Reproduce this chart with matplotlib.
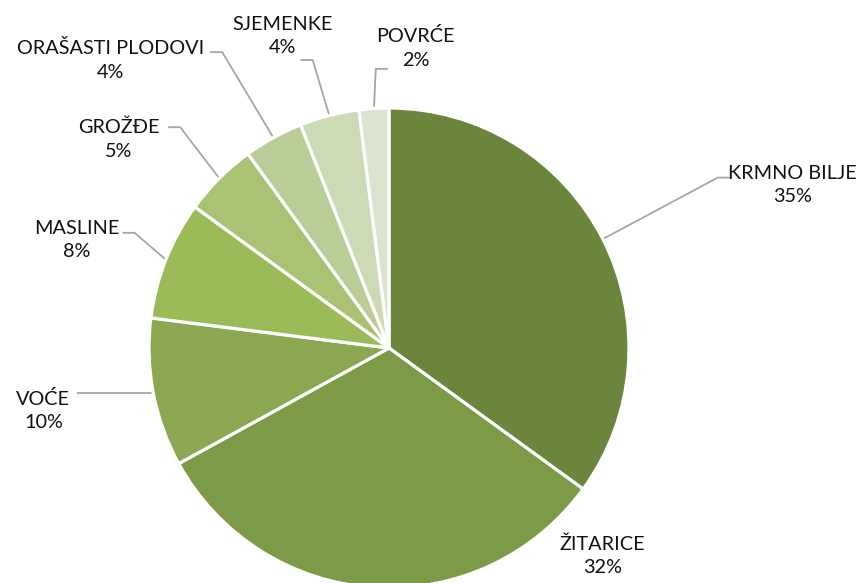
import numpy as np
import matplotlib.pyplot as plt

# Data (share of area by crop group, %)
categories = ['KRMNO BILJE', 'ŽITARICE', 'VOĆE', 'MASLINE', 'GROŽĐE',
              'ORAŠASTI PLODOVI', 'SJEMENKE', 'POVRĆE']
shares = [35, 32, 10, 8, 5, 4, 4, 2]
colors = ['#6b863c', '#7d9a47', '#8ba752', '#9bbb59', '#a9c273',
          '#b9cd96', '#ccdab5', '#dce4d0']

# label text centres (pie radius units) and leader-line elbows
# (elbow y of None = straight horizontal leader at the wedge's height)
label_pos = [(1.680, 0.680), (0.890, -0.865), (-1.440, -0.260), (-1.300, 0.450),
             (-1.125, 0.870), (-1.160, 1.200), (-0.445, 1.300), (0.110, 1.250)]
elbows = [(1.370, 0.710), None, (-1.250, None), (-1.060, 0.480),
          (-0.870, 0.920), (-0.695, 1.233), (-0.318, 1.200), (-0.055, 1.163)]

plt.rcParams['font.family'] = ['Lato', 'DejaVu Sans']

fig = plt.figure(figsize=(8.62, 5.83), dpi=100)
ax = fig.add_axes([0, 0, 1, 1])

wedges, _ = ax.pie(shares, colors=colors, startangle=90, counterclock=False,
                   radius=1.0, wedgeprops=dict(edgecolor='white', linewidth=2.3))

for w, name, val, pos, elb in zip(wedges, categories, shares, label_pos, elbows):
    ang = np.deg2rad((w.theta1 + w.theta2) / 2)
    ax.text(pos[0], pos[1], f'{name}\n{val}%', ha='center', va='center',
            fontsize=14.3, color='#111111', linespacing=1.45)
    if elb is None:
        continue
    edge = (np.cos(ang), np.sin(ang))
    ex, ey = elb[0], (edge[1] if elb[1] is None else elb[1])
    # horizontal stub towards the label, then down to the wedge edge
    stub_x = ex + (0.05 if pos[0] > ex else -0.05)
    ax.plot([edge[0], ex, stub_x], [edge[1], ey, ey],
            color='#a6a6a6', lw=1.3, solid_capstyle='butt', zorder=0)

ax.set_xlim(-389 / 240, 473 / 240)
ax.set_ylim(-235 / 240, 348 / 240)
ax.set_aspect('equal')
ax.axis('off')

fig.savefig('out.png', dpi=100, facecolor='white')
